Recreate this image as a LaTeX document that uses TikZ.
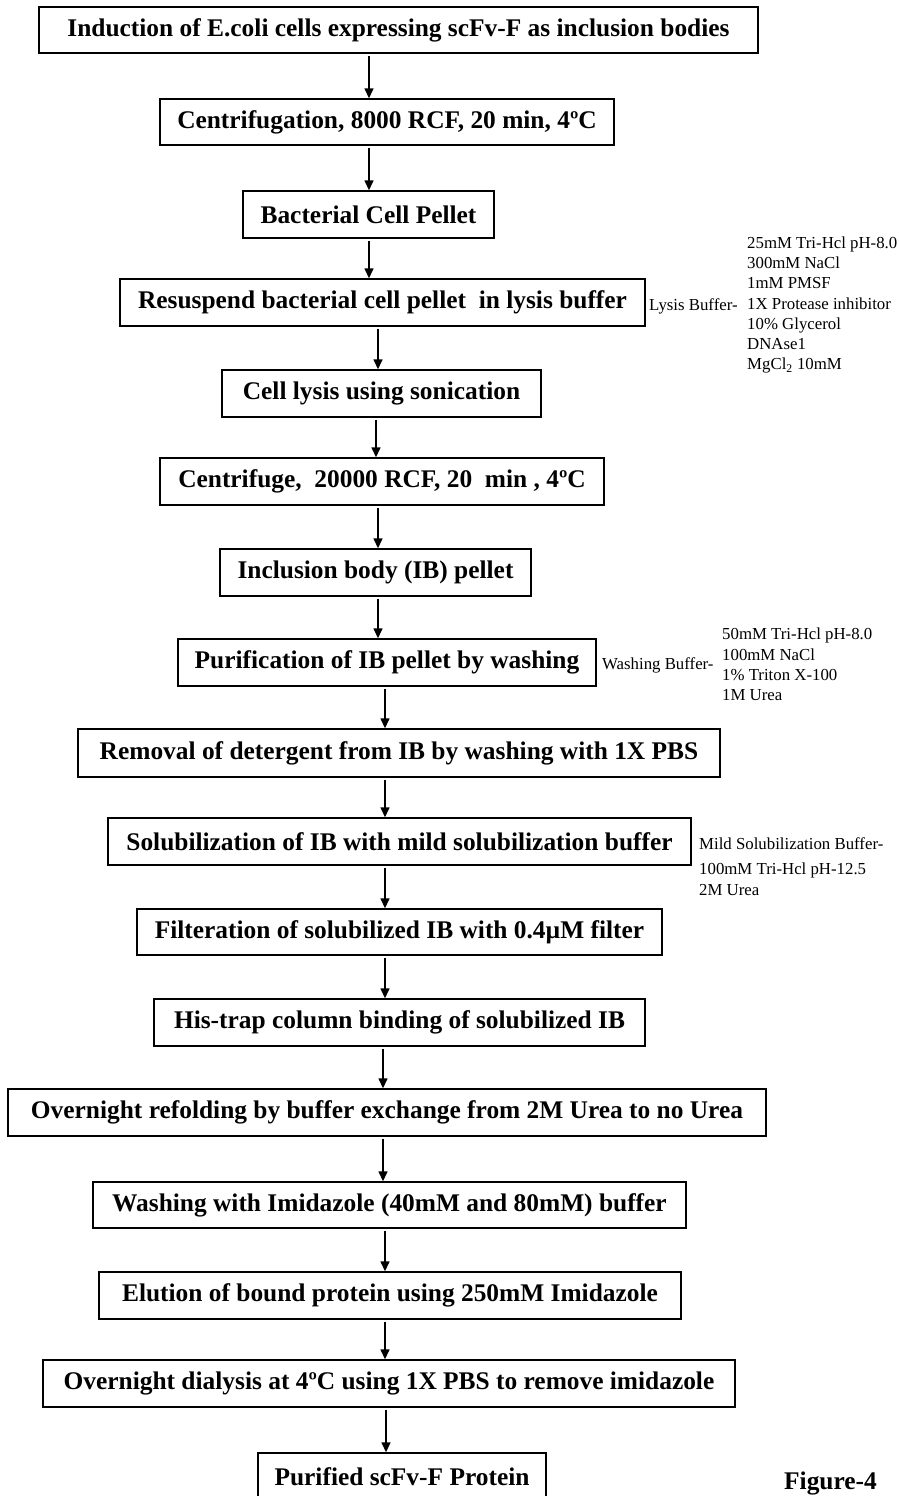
\documentclass[tikz,border=0pt]{standalone}
\usepackage{fontspec}
\setmainfont{Liberation Serif}
\usetikzlibrary{arrows.meta}
\tikzset{
  stepbox/.style={draw=black, line width=1.4pt, inner sep=0pt, align=center,
    font=\fontsize{25.4}{30}\selectfont\bfseries},
  flow/.style={line width=1.4pt, -{Triangle[length=10pt,width=9pt]}, shorten <=2pt},
  note/.style={font=\fontsize{16.8}{20.3}\selectfont, inner sep=0pt, anchor=west, align=left},
  figlabel/.style={font=\fontsize{25.4}{30}\selectfont\bfseries, inner sep=0pt, anchor=west}
}
\begin{document}
\begin{tikzpicture}[x=1pt,y=-1pt]
\useasboundingbox (0,0) rectangle (899,1496);
\clip (0,0) rectangle (899,1496);

\node[stepbox, minimum width=719pt, minimum height=46pt] (n1) at (398.5,30) {Induction of E.coli cells expressing scFv-F as inclusion bodies};
\node[stepbox, minimum width=454pt, minimum height=46pt] (n2) at (387,122) {Centrifugation, 8000 RCF, 20 min, 4ºC};
\node[stepbox, minimum width=251pt, minimum height=47pt] (n3) at (368.5,214.5) {Bacterial Cell Pellet};
\node[stepbox, minimum width=525pt, minimum height=47pt] (n4) at (382.5,302.5) {Resuspend bacterial cell pellet\ \ in lysis buffer};
\node[stepbox, minimum width=319pt, minimum height=47pt] (n5) at (381.5,393.5) {Cell lysis using sonication};
\node[stepbox, minimum width=444pt, minimum height=47pt] (n6) at (382,481.5) {Centrifuge,\ \ 20000 RCF, 20\ \ min , 4ºC};
\node[stepbox, minimum width=311pt, minimum height=47pt] (n7) at (375.5,572.5) {Inclusion body (IB) pellet};
\node[stepbox, minimum width=418pt, minimum height=47pt] (n8) at (387,662.5) {Purification of IB pellet by washing};
\node[stepbox, minimum width=642pt, minimum height=48pt] (n9) at (399,753) {Removal of detergent from IB by washing with 1X PBS};
\node[stepbox, minimum width=583pt, minimum height=47pt] (n10) at (399.5,841.5) {Solubilization of IB with mild solubilization buffer};
\node[stepbox, minimum width=525pt, minimum height=46pt] (n11) at (399.5,932) {Filteration of solubilized IB with 0.4µM filter};
\node[stepbox, minimum width=491pt, minimum height=47pt] (n12) at (399.5,1022.5) {His-trap column binding of solubilized IB};
\node[stepbox, minimum width=758pt, minimum height=47pt] (n13) at (387,1112.5) {Overnight refolding by buffer exchange from 2M Urea to no Urea};
\node[stepbox, minimum width=593pt, minimum height=46pt] (n14) at (389.5,1205) {Washing with Imidazole (40mM and 80mM) buffer};
\node[stepbox, minimum width=582pt, minimum height=47pt] (n15) at (390,1295.5) {Elution of bound protein using 250mM Imidazole};
\node[stepbox, minimum width=692pt, minimum height=47pt] (n16) at (389,1383.5) {Overnight dialysis at 4ºC using 1X PBS to remove imidazole};
\node[stepbox, minimum width=288pt, minimum height=47pt] (n17) at (402,1476.5) {Purified scFv-F Protein};

\node[note] (lysislabel) at (649,306) {Lysis Buffer-};
\node[note] (lysislist) at (747,305) {25mM Tri-Hcl pH-8.0\\300mM NaCl\\1mM PMSF\\1X Protease inhibitor\\10\% Glycerol\\DNAse1\\MgCl\textsubscript{2} 10mM};
\node[note] (washlabel) at (602,665) {Washing Buffer-};
\node[note] (washlist) at (722,664.5) {50mM Tri-Hcl pH-8.0\\100mM NaCl\\1\% Triton X-100\\1M Urea};
\node[note] (mildlabel) at (699,844) {Mild Solubilization Buffer-};
\node[note, font=\fontsize{16.8}{21}\selectfont] (mildlist) at (699,879.5) {100mM Tri-Hcl pH-12.5\\2M Urea};

\node[figlabel] (fig) at (784,1483) {Figure-4};

\draw[flow] (n1.south -| 369,0) -- (n2.north -| 369,0);
\draw[flow] (n2.south -| 369,0) -- (n3.north -| 369,0);
\draw[flow] (n3.south -| 369,0) -- (n4.north -| 369,0);
\draw[flow] (n4.south -| 378,0) -- (n5.north -| 378,0);
\draw[flow] (n5.south -| 376,0) -- (n6.north -| 376,0);
\draw[flow] (n6.south -| 378,0) -- (n7.north -| 378,0);
\draw[flow] (n7.south -| 378,0) -- (n8.north -| 378,0);
\draw[flow] (n8.south -| 385,0) -- (n9.north -| 385,0);
\draw[flow] (n9.south -| 385,0) -- (n10.north -| 385,0);
\draw[flow] (n10.south -| 385,0) -- (n11.north -| 385,0);
\draw[flow] (n11.south -| 385,0) -- (n12.north -| 385,0);
\draw[flow] (n12.south -| 383,0) -- (n13.north -| 383,0);
\draw[flow] (n13.south -| 383,0) -- (n14.north -| 383,0);
\draw[flow] (n14.south -| 385,0) -- (n15.north -| 385,0);
\draw[flow] (n15.south -| 385,0) -- (n16.north -| 385,0);
\draw[flow] (n16.south -| 386,0) -- (n17.north -| 386,0);
\end{tikzpicture}
\end{document}
